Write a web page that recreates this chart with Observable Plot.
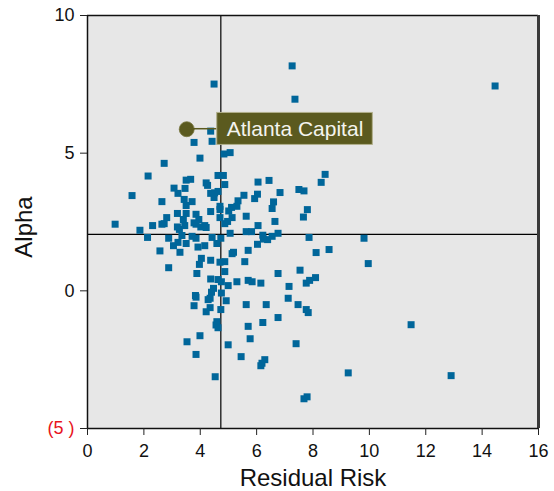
<!DOCTYPE html>
<html>
<head>
<meta charset="utf-8">
<script src="https://cdn.jsdelivr.net/npm/d3@7"></script>
<script src="https://cdn.jsdelivr.net/npm/@observablehq/plot@0.6"></script>
<style>
  html, body { margin: 0; padding: 0; background: #ffffff; }
  #chart { width: 554px; height: 491px; }
</style>
</head>
<body>
<div id="chart"></div>
<script>
// Residual risk (x) and alpha (y) for each fund
const riskX = [
  4.84, 5.06, 3.99, 2.72, 2.15, 4.63, 4.82, 3.50, 3.66, 4.21,
  4.26, 4.87, 6.05, 6.44, 8.29, 8.43, 3.07, 3.46, 3.21, 4.37,
  4.51, 4.63, 4.49, 1.58, 2.64, 3.43, 3.71, 3.50, 5.55, 6.03,
  5.93, 6.83, 7.50, 7.68, 5.34, 6.60, 5.30, 5.11, 6.55, 4.70,
  4.70, 5.01, 4.37, 3.19, 3.50, 3.85, 7.80, 7.66, 4.70, 5.13,
  5.63, 2.81, 3.40, 3.95, 4.97, 4.87, 6.65, 0.98, 2.31, 2.64,
  2.72, 3.19, 3.26, 3.45, 3.78, 3.85, 4.02, 4.16, 4.21, 6.05,
  1.86, 5.63, 5.82, 5.06, 6.22, 6.39, 6.55, 6.76, 6.24, 2.13,
  2.88, 3.35, 3.21, 3.05, 3.50, 3.71, 3.85, 4.42, 4.73, 4.59,
  3.92, 4.16, 6.03, 7.86, 2.57, 3.28, 5.70, 5.13, 5.18, 8.11,
  8.57, 9.81, 9.96, 4.04, 4.37, 4.70, 4.87, 5.58, 3.97, 2.88,
  4.87, 3.88, 6.76, 7.54, 4.37, 4.63, 4.75, 5.30, 5.70, 5.84,
  6.15, 4.99, 7.76, 7.88, 8.09, 7.15, 4.47, 4.40, 4.75, 3.83,
  3.85, 4.28, 4.35, 7.12, 4.92, 3.78, 4.35, 4.21, 4.73, 5.63,
  6.34, 7.47, 7.76, 7.83, 6.76, 4.59, 4.56, 4.63, 5.70, 6.22,
  3.99, 3.53, 4.99, 5.77, 7.40, 3.85, 5.45, 6.29, 6.19, 6.15,
  4.53, 7.79, 7.68, 11.48, 9.25, 12.90, 14.46, 7.26, 4.49, 7.36,
  4.37, 3.78, 4.42
];
const alphaY = [
  4.97, 5.02, 4.82, 4.63, 4.17, 4.19, 4.19, 4.02, 4.05, 3.92,
  3.83, 3.86, 3.95, 4.01, 3.94, 4.23, 3.73, 3.72, 3.54, 3.54,
  3.56, 3.61, 3.39, 3.46, 3.24, 3.32, 3.24, 3.10, 3.47, 3.51,
  3.35, 3.57, 3.68, 3.63, 3.27, 3.23, 3.07, 3.03, 2.99, 3.07,
  2.95, 2.90, 2.88, 2.81, 2.81, 2.78, 2.95, 2.68, 2.66, 2.66,
  2.71, 2.66, 2.59, 2.59, 2.52, 2.44, 2.52, 2.42, 2.37, 2.42,
  2.44, 2.32, 2.23, 2.37, 2.47, 2.42, 2.32, 2.37, 2.30, 2.37,
  2.20, 2.15, 2.15, 2.09, 2.02, 1.86, 1.98, 2.09, 1.88, 1.94,
  1.91, 2.01, 1.76, 1.64, 1.72, 1.98, 1.91, 1.94, 1.91, 1.72,
  1.59, 1.64, 1.69, 1.94, 1.45, 1.40, 1.47, 1.35, 1.40, 1.39,
  1.50, 1.91, 0.99, 1.18, 1.11, 1.04, 1.06, 1.06, 0.96, 0.84,
  0.70, 0.63, 0.63, 0.75, 0.43, 0.41, 0.33, 0.33, 0.38, 0.33,
  0.28, 0.19, 0.28, 0.38, 0.48, 0.16, 0.09, -0.05, -0.08, -0.17,
  -0.23, -0.32, -0.27, -0.27, -0.36, -0.54, -0.61, -0.76, -0.68, -0.50,
  -0.50, -0.50, -0.68, -0.79, -0.97, -1.12, -1.24, -1.34, -1.29, -1.15,
  -1.63, -1.85, -1.96, -1.74, -1.92, -2.31, -2.39, -2.50, -2.63, -2.72,
  -3.12, -3.85, -3.92, -1.23, -2.98, -3.08, 7.44, 8.17, 7.51, 6.96,
  5.80, 5.39, 5.43
];

// Highlighted fund
const highlightName = ["Atlanta Capital"];
const highlightX = [3.52];
const highlightY = [5.87];

// Average lines
const avgRisk = [4.73];
const avgAlpha = [2.05];

// Axis ticks
const xTicks = [0, 2, 4, 6, 8, 10, 12, 14, 16];
const yTicks = [-5, 0, 5, 10];
const xTitle = "Residual Risk";
const yTitle = "Alpha";

const funds = riskX.map((x, i) => ({x, y: alphaY[i]}));
const highlight = highlightName.map((name, i) => ({name, x: highlightX[i], y: highlightY[i]}));

const olive = "#5b5a1f";
const font = "'Liberation Sans', Arial, sans-serif";

const chart = Plot.plot({
  width: 554,
  height: 491,
  marginLeft: 87,
  marginRight: 16,
  marginTop: 15,
  marginBottom: 63,
  style: {fontFamily: font, fontSize: "18px", color: "#111", background: "#ffffff"},
  x: {domain: [0, 16]},
  y: {domain: [-5, 10]},
  marks: [
    Plot.frame({fill: "#e7e7e7"}),
    Plot.ruleY(avgAlpha, {stroke: "#000", strokeWidth: 1.2}),
    Plot.ruleX(avgRisk, {stroke: "#000", strokeWidth: 1.2}),
    Plot.ruleY([10], {stroke: "#111", strokeWidth: 1.5}),
    Plot.ruleX([16], {stroke: "#3a3a3a", strokeWidth: 3}),
    Plot.ruleX([0], {stroke: "#111", strokeWidth: 1.5}),
    Plot.ruleY([-5], {stroke: "#111", strokeWidth: 1.5}),
    Plot.axisX({ticks: xTicks, tickSize: 7, tickPadding: 9, label: null, fontSize: 18, stroke: "#222", fill: "#111"}),
    Plot.axisY({ticks: yTicks, tickSize: 7, tickPadding: 6, label: null, fontSize: 18, stroke: "#222", fill: "#111",
      tickFormat: d => d < 0 ? `(${-d} )` : `${d}`}),
    Plot.dot(funds, {x: "x", y: "y", symbol: "square", r: 3.95, fill: "#00669a", stroke: "none"}),
    Plot.dot(highlight, {x: "x", y: "y", r: 7.5, fill: olive, stroke: "#77763f", strokeWidth: 0.8}),
    Plot.text(highlight, {x: "x", y: "y", text: "name", dx: 40, textAnchor: "start", fill: "#f4f4ee", fontSize: 21}),
    Plot.text([xTitle], {frameAnchor: "bottom", lineAnchor: "middle", textAnchor: "middle", dy: 50, fontSize: 24, fill: "#111"}),
    Plot.text([yTitle], {frameAnchor: "left", lineAnchor: "middle", textAnchor: "middle", dx: -63, dy: 5, rotate: -90, fontSize: 24, fill: "#111"})
  ]
});

document.getElementById("chart").append(chart);

// Red negative tick label
d3.select(chart).selectAll("text")
  .filter(function() { return this.textContent.startsWith("("); })
  .attr("fill", "#e8141c");

// Label box and connector for the highlighted fund
const svgRect = chart.getBoundingClientRect();
const sx = chart.scale("x"), sy = chart.scale("y");
d3.select(chart).selectAll("text")
  .filter(function() { return highlightName.includes(this.textContent); })
  .each(function() {
    const b = this.getBoundingClientRect();
    const left = b.left - svgRect.left - 10;
    const right = b.right - svgRect.left + 9;
    const cy = (b.top + b.bottom) / 2 - svgRect.top;
    const g = this.parentNode;
    const ns = "http://www.w3.org/2000/svg";
    const rect = document.createElementNS(ns, "rect");
    rect.setAttribute("x", left);
    rect.setAttribute("y", cy - 16);
    rect.setAttribute("width", right - left);
    rect.setAttribute("height", 32);
    rect.setAttribute("fill", olive);
    rect.setAttribute("stroke", "#b2b08c");
    rect.setAttribute("stroke-width", 1);
    const h = highlight.find(d => d.name === this.textContent);
    const line = document.createElementNS(ns, "line");
    line.setAttribute("x1", sx.apply(h.x));
    line.setAttribute("x2", left);
    line.setAttribute("y1", sy.apply(h.y));
    line.setAttribute("y2", sy.apply(h.y));
    line.setAttribute("stroke", olive);
    line.setAttribute("stroke-width", 1.5);
    g.parentNode.insertBefore(line, g);
    g.parentNode.insertBefore(rect, g);
  });
</script>
</body>
</html>
